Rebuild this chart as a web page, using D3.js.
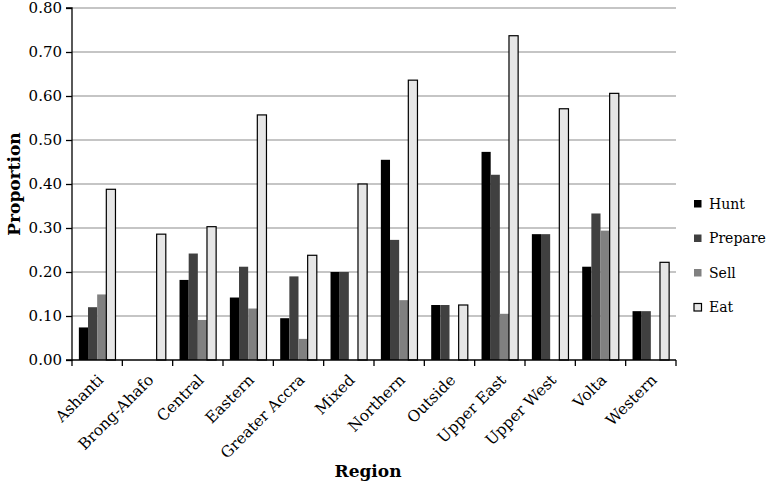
<!DOCTYPE html>
<html><head><meta charset="utf-8">
<script src="https://cdn.jsdelivr.net/npm/d3@7"></script>
<style>body{margin:0;background:#fff}svg{display:block}text{font-family:"DejaVu Serif",serif}</style>
</head><body><svg id="c" width="767" height="487"></svg>
<script>
const categories = ["Ashanti","Brong-Ahafo","Central","Eastern","Greater Accra","Mixed","Northern","Outside","Upper East","Upper West","Volta","Western"];
const seriesNames = ["Hunt","Prepare","Sell","Eat"];
const hunt    = [0.074,0,0.182,0.142,0.095,0.200,0.455,0.125,0.473,0.286,0.212,0.111];
const prepare = [0.120,0,0.242,0.212,0.190,0.200,0.273,0.125,0.421,0.286,0.333,0.111];
const sell    = [0.149,0,0.091,0.117,0.048,0,0.136,0,0.105,0,0.294,0];
const eat     = [0.388,0.286,0.303,0.557,0.238,0.400,0.636,0.125,0.737,0.571,0.606,0.222];
const yTicks  = [0,0.1,0.2,0.3,0.4,0.5,0.6,0.7,0.8];
const seriesValues = [hunt, prepare, sell, eat];
const fills = ["#000000","#404040","#808080","#e6e6e6"];

const svg = d3.select("#c");
const m = {l:72, r:676, t:8, b:360};
const x = d3.scaleBand().domain(categories).range([m.l, m.r]).paddingInner(0).paddingOuter(0);
const y = d3.scaleLinear().domain([0,0.8]).range([m.b, m.t]);
const bw = x.bandwidth();
const barW = bw/(4+1.5);
const xs = d3.scaleBand().domain(seriesNames).range([barW*0.75, barW*0.75 + 4*barW]);

// gridlines
svg.append("g").selectAll("line").data(yTicks.slice(1)).join("line")
  .attr("x1", m.l).attr("x2", m.r).attr("y1", d=>y(d)).attr("y2", d=>y(d))
  .attr("stroke","#8c8c8c").attr("stroke-width",1.2);

// bars
seriesNames.forEach((s,i)=>{
  svg.append("g").selectAll("rect").data(categories.map((c,j)=>({c, v: seriesValues[i][j]})).filter(d=>d.v>0)).join("rect")
    .attr("x", d=>x(d.c)+xs(s)).attr("width", xs.bandwidth())
    .attr("y", d=>y(d.v)).attr("height", d=>y(0)-y(d.v))
    .attr("fill", fills[i])
    .attr("stroke", i===3 ? "#000" : "none").attr("stroke-width", 1.2);
});

// y axis
const ya = d3.axisLeft(y).tickValues(yTicks).tickFormat(d3.format(".2f")).tickSize(6).tickPadding(4);
const yg = svg.append("g").attr("transform",`translate(${m.l},0)`).call(ya);
yg.select(".domain").attr("stroke","#000").attr("stroke-width",1.3).attr("d",`M-6,${m.t}H0V${m.b}H-6`);
yg.selectAll("text").attr("font-size","15px").attr("fill","#000").style("font-family","DejaVu Serif");
yg.selectAll(".tick line").attr("stroke","#000").attr("stroke-width",1.3);

// x axis
const xg = svg.append("g").attr("transform",`translate(0,${m.b})`);
xg.append("line").attr("x1",m.l).attr("x2",m.r).attr("y1",0).attr("y2",0).attr("stroke","#000").attr("stroke-width",1.3);
const bounds = categories.map(c=>x(c)).concat([m.r]);
xg.selectAll("line.tk").data(bounds).join("line").attr("class","tk")
  .attr("x1",d=>d).attr("x2",d=>d).attr("y1",0).attr("y2",6).attr("stroke","#000").attr("stroke-width",1.3);
xg.selectAll("text").data(categories).join("text")
  .attr("transform", d=>`translate(${x(d)+bw/2+7},${21}) rotate(-45)`)
  .attr("text-anchor","end").attr("font-size","15.5px").attr("fill","#000").text(d=>d);

// axis titles
svg.append("text").attr("transform","translate(20,184) rotate(-90)").attr("text-anchor","middle")
  .attr("font-size","17px").attr("font-weight","bold").text("Proportion");
svg.append("text").attr("x",368).attr("y",477).attr("text-anchor","middle")
  .attr("font-size","17px").attr("font-weight","bold").text("Region");

// legend
const lg = svg.append("g");
seriesNames.forEach((s,i)=>{
  const yy = 200 + i*34.5;
  lg.append("rect").attr("x",694).attr("y",yy).attr("width",7.5).attr("height",7.5)
    .attr("fill",fills[i]).attr("stroke", i===3?"#000":"none").attr("stroke-width",1.2);
  lg.append("text").attr("x",709).attr("y",yy+8.5).attr("font-size","14px").text(s);
});
</script></body></html>
